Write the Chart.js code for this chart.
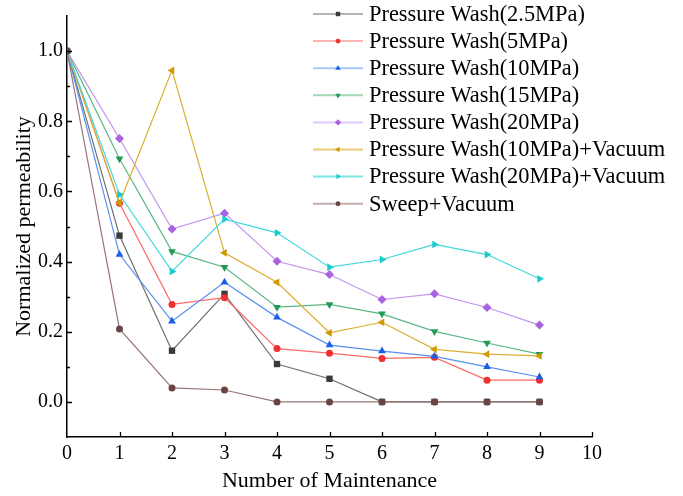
<!DOCTYPE html>
<html>
<head>
<meta charset="utf-8">
<script src="https://cdn.jsdelivr.net/npm/chart.js@4/dist/chart.umd.min.js"></script>
<style>
  html, body { margin: 0; padding: 0; background: #fff; }
  #wrap { width: 683px; height: 496px; position: relative; }
</style>
</head>
<body>
<div id="wrap"><canvas id="permChart"></canvas></div>
<script>
// maintenance rounds (x)
const rounds = [0, 1, 2, 3, 4, 5, 6, 7, 8, 9];

const seriesNames = [
  'Pressure Wash(2.5MPa)',
  'Pressure Wash(5MPa)',
  'Pressure Wash(10MPa)',
  'Pressure Wash(15MPa)',
  'Pressure Wash(20MPa)',
  'Pressure Wash(10MPa)+Vacuum',
  'Pressure Wash(20MPa)+Vacuum',
  'Sweep+Vacuum'
];

// normalized permeability per method
const wash2_5 = [1.0, 0.474, 0.146, 0.308, 0.108, 0.066, 0.0, 0.0, 0.0, 0.0];
const wash5 = [1.0, 0.566, 0.278, 0.297, 0.152, 0.139, 0.124, 0.127, 0.062, 0.062];
const wash10 = [1.0, 0.420, 0.230, 0.341, 0.241, 0.162, 0.145, 0.130, 0.100, 0.071];
const wash15 = [1.0, 0.693, 0.429, 0.384, 0.270, 0.278, 0.251, 0.201, 0.168, 0.136];
const wash20 = [1.0, 0.751, 0.493, 0.538, 0.401, 0.363, 0.292, 0.308, 0.269, 0.219];
const wash10Vac = [1.0, 0.567, 0.945, 0.425, 0.341, 0.197, 0.227, 0.150, 0.136, 0.131];
const wash20Vac = [1.0, 0.591, 0.372, 0.521, 0.482, 0.384, 0.406, 0.449, 0.420, 0.351];
const sweepVac = [1.0, 0.208, 0.040, 0.034, 0.0, 0.0, 0.0, 0.0, 0.0, 0.0];

const yTickValues = [0.0, 0.2, 0.4, 0.6, 0.8, 1.0];
const yMinorValues = [0.1, 0.3, 0.5, 0.7, 0.9];
const xTickValues = [0, 1, 2, 3, 4, 5, 6, 7, 8, 9, 10];

const allSeries = [wash2_5, wash5, wash10, wash15, wash20, wash10Vac, wash20Vac, sweepVac];
const markerColors = ['#3a3a3a', '#f03030', '#1a60e6', '#239a58', '#a862e2', '#d09a00', '#1ccccc', '#6a4444'];
const lineColors = ['#6e6e6e', '#ff6a6a', '#5a90f0', '#5ab882', '#c394ee', '#dcae30', '#40d8d8', '#9a7474'];
const legendLineColors = ['#b4b4b4', '#ffb4b4', '#a8c6f8', '#a0d8b6', '#e0c8f8', '#e8cc78', '#7ae6e6', '#c6acac'];
const markerStyles = ['rect', 'circle', 'triangle', 'triangle', 'rectRot', 'triangle', 'triangle', 'circle'];
const markerRotation = [0, 0, 0, 180, 0, 270, 90, 0];
const markerRadius = [4.5, 3.5, 4.5, 4.5, 4.5, 4.5, 4.5, 3.5];

const serif = "'Liberation Serif', 'Times New Roman', serif";

const datasets = allSeries.map((vals, i) => ({
  label: seriesNames[i],
  data: rounds.map((r, j) => ({ x: r, y: vals[j] })),
  borderColor: lineColors[i],
  backgroundColor: markerColors[i],
  pointBorderColor: markerColors[i],
  pointBackgroundColor: markerColors[i],
  pointStyle: markerStyles[i],
  rotation: markerRotation[i],
  pointRadius: markerRadius[i],
  pointBorderWidth: 0,
  borderWidth: 1.2,
  tension: 0,
  order: allSeries.length - 1 - i
}));

// inward tick marks on both axes
const innerTicks = {
  id: 'innerTicks',
  afterDraw(chart) {
    const { ctx, chartArea, scales } = chart;
    ctx.save();
    ctx.strokeStyle = '#000';
    ctx.lineWidth = 1.3;
    ctx.beginPath();
    xTickValues.forEach(v => {
      if (v === 0) return;
      const px = Math.round(scales.x.getPixelForValue(v)) + 0.5;
      ctx.moveTo(px, chartArea.bottom);
      ctx.lineTo(px, chartArea.bottom - 5);
    });
    yTickValues.forEach(v => {
      const py = Math.round(scales.y.getPixelForValue(v)) + 0.5;
      ctx.moveTo(chartArea.left, py);
      ctx.lineTo(chartArea.left + 5, py);
    });
    yMinorValues.forEach(v => {
      const py = Math.round(scales.y.getPixelForValue(v)) + 0.5;
      ctx.moveTo(chartArea.left, py);
      ctx.lineTo(chartArea.left + 3, py);
    });
    ctx.stroke();
    ctx.restore();
  }
};

// legend block in the upper right
const sideLegend = {
  id: 'sideLegend',
  afterDraw(chart) {
    const { ctx } = chart;
    ctx.save();
    ctx.font = '22.4px ' + serif;
    ctx.textBaseline = 'middle';
    ctx.fillStyle = '#000';
    chart.data.datasets.forEach((ds, i) => {
      const y = 14 + i * 27.1;
      ctx.strokeStyle = legendLineColors[i];
      ctx.lineWidth = 2;
      ctx.beginPath();
      ctx.moveTo(313, y);
      ctx.lineTo(363, y);
      ctx.stroke();
      ctx.fillStyle = markerColors[i];
      Chart.helpers.drawPoint(ctx, {
        pointStyle: ds.pointStyle,
        rotation: ds.rotation,
        radius: ds.pointRadius * 0.7,
        borderWidth: 0
      }, 338, y);
      ctx.fillStyle = '#000';
      ctx.fillText(ds.label, 369, y + 1);
    });
    ctx.restore();
  }
};

new Chart(document.getElementById('permChart'), {
  type: 'line',
  data: { datasets },
  options: {
    responsive: true,
    maintainAspectRatio: false,
    animation: false,
    layout: { padding: { top: 14, right: 91, left: 0, bottom: 0 } },
    plugins: { legend: { display: false }, tooltip: { enabled: false } },
    scales: {
      x: {
        type: 'linear',
        min: 0,
        max: 10,
        afterBuildTicks: s => { s.ticks = xTickValues.map(v => ({ value: v })); },
        afterFit: s => { s.height = 59; },
        grid: { display: true, drawOnChartArea: false, drawTicks: false },
        border: { display: true, color: '#000', width: 1.5 },
        ticks: { color: '#000', padding: 5, font: { family: serif, size: 20 }, maxRotation: 0 },
        title: { display: true, text: 'Number of Maintenance', color: '#000', font: { family: serif, size: 22 }, padding: { top: 0, bottom: 2 } }
      },
      y: {
        type: 'linear',
        min: -0.1,
        max: 1.1,
        afterBuildTicks: s => { s.ticks = yTickValues.map(v => ({ value: v })); },
        afterFit: s => { s.width = 67; },
        grid: { display: true, drawOnChartArea: false, drawTicks: false },
        border: { display: true, color: '#000', width: 1.5 },
        ticks: { color: '#000', padding: 4, font: { family: serif, size: 20 }, callback: v => v.toFixed(1) },
        title: { display: true, text: 'Normalized permeability', color: '#000', font: { family: serif, size: 22 }, padding: { top: 11, bottom: 0 } }
      }
    }
  },
  plugins: [innerTicks, sideLegend]
});
</script>
</body>
</html>
